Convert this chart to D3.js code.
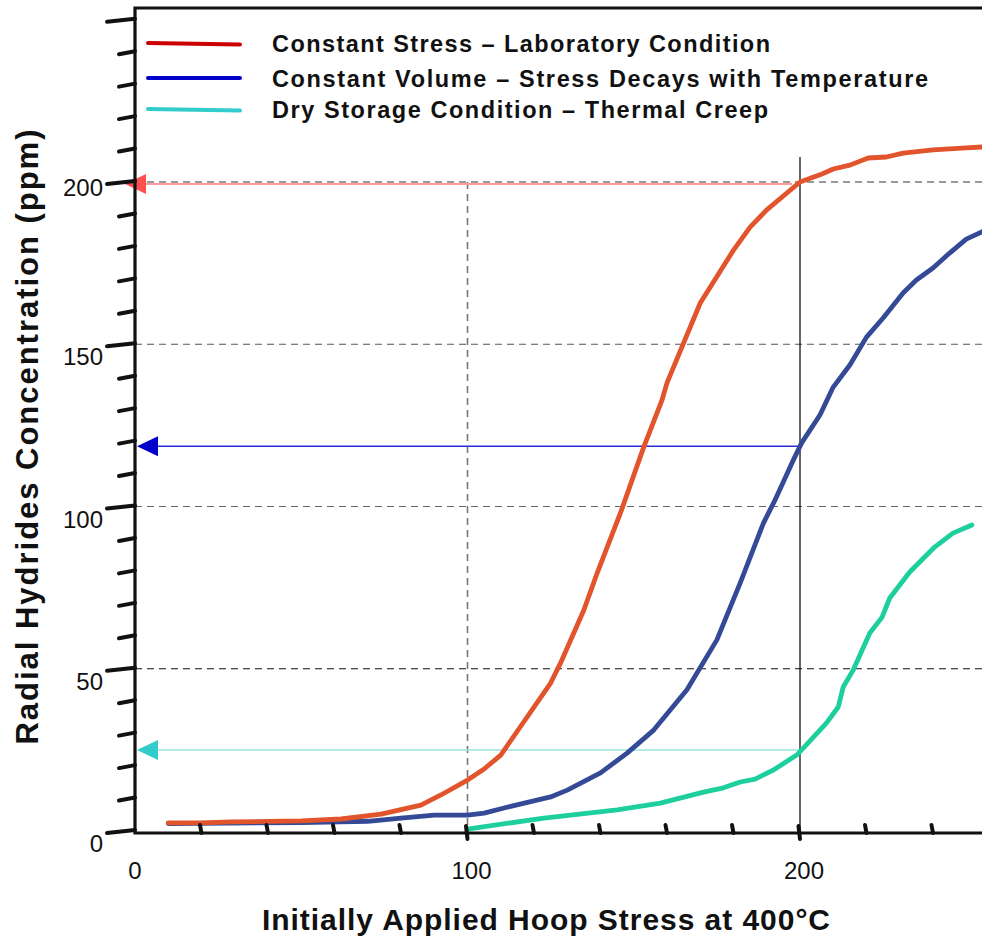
<!DOCTYPE html>
<html>
<head>
<meta charset="utf-8">
<script src="https://cdn.jsdelivr.net/npm/d3@7"></script>
<style>
  body { margin: 0; background: #fff; }
  svg { display: block; font-family: "Liberation Sans", Arial, sans-serif; }
</style>
</head>
<body>
<div id="chart"></div>
<script>
// hoop stress (MPa) vs radial hydride concentration (ppm)
const constantStress = [
  [10, 2.5], [20, 2.5], [29, 2.8], [50, 3.1], [62, 3.7], [74, 5.2], [86, 8.0],
  [92, 11.1], [100, 15.7], [105, 19.1], [110, 23.4], [125, 45.6], [128, 51.8],
  [135, 68.1], [139, 79.5], [146, 98.0], [153, 118.3], [158.5, 132.8], [160, 138.1],
  [170, 162.7], [180, 179.0], [185, 186.1], [190, 191.4], [200, 200.0], [206, 202.2],
  [210, 204.0], [215, 205.2], [220.5, 207.4], [226, 207.7], [231, 208.9], [240, 209.9],
  [250, 210.5], [255, 210.8]
];
const constantVolume = [
  [10, 2.3], [50, 2.6], [70, 3.0], [80, 4.0], [90, 4.9], [100, 4.9], [105, 5.5],
  [111, 7.1], [125, 10.5], [130, 12.6], [140, 17.9], [148, 24.0], [156, 31.1],
  [166, 43.5], [175, 58.9], [182, 76.4], [189, 94.9], [192.5, 102.0], [198, 114.3],
  [200.5, 119.6], [206, 128.2], [210, 136.8], [215, 143.6], [220, 152.2], [225, 158.1],
  [231, 165.8], [235, 169.8], [240, 173.5], [245, 178.1], [250, 182.4], [255, 184.8]
];
const dryStorage = [
  [100, 0.6], [123, 4.0], [145, 6.5], [158, 8.6], [171, 12.0], [177, 13.3], [182, 15.1],
  [186.5, 16.0], [192, 18.8], [199, 23.4], [200.5, 25.0], [208, 33.3], [211.5, 38.2],
  [213, 44.4], [216, 49.6], [221, 61.0], [224.7, 65.9], [227, 71.8], [233, 79.8],
  [240.5, 87.5], [246, 91.8], [251.7, 94.3]
];
const seriesNames = [
  "Constant Stress \u2013 Laboratory Condition",
  "Constant Volume \u2013 Stress Decays with Temperature",
  "Dry Storage Condition \u2013 Thermal Creep"
];
const legendColors = ["#cc0000", "#0000cc", "#33cccc"];
const curveColors = ["#e2542c", "#354a96", "#1dcf9d"];
// values where each curve meets 200 MPa, marked with arrows to the axis
const arrowValues = [199.4, 118.6, 25.0];
const arrowColors = ["#ff9a9a", "#2b2bd9", "#99e3e3"];
const arrowHeadColors = ["#ff5050", "#0000cc", "#33cccc"];
const xTickLabels = [0, 100, 200];
const yTickLabels = [0, 50, 100, 150, 200];
const yGridValues = [200, 150, 100, 50];
const gridColors = ["#7a7a7a", "#555", "#666", "#111"];

const width = 982, height = 941;
const svg = d3.select("#chart").append("svg")
  .attr("width", width).attr("height", height);

const x = d3.scaleLinear().domain([0, 200]).range([135, 800]);
const y = d3.scaleLinear().domain([0, 200]).range([831, 182]);
const plotLeft = x(0), plotRight = width, plotTop = 8, plotBottom = 833;

// grid
svg.selectAll(".hgrid").data(yGridValues).enter().append("line")
  .attr("x1", plotLeft).attr("x2", plotRight)
  .attr("y1", (d) => y(d)).attr("y2", (d) => y(d))
  .attr("stroke", (d, i) => gridColors[i])
  .attr("stroke-width", (d, i) => (i === 0 ? 1.6 : 1.2))
  .attr("stroke-dasharray", "7,5");

svg.append("line")
  .attr("x1", x(100)).attr("x2", x(100))
  .attr("y1", y(200)).attr("y2", plotBottom)
  .attr("stroke", "#777").attr("stroke-width", 1.6)
  .attr("stroke-dasharray", "7,5");

svg.append("line")
  .attr("x1", x(200)).attr("x2", x(200))
  .attr("y1", 157).attr("y2", plotBottom)
  .attr("stroke", "#000").attr("stroke-width", 1.2);

// arrows back to the axis
arrowValues.forEach((v, i) => {
  const yy = y(v);
  svg.append("line")
    .attr("x1", x(200) - (i === 0 ? 8 : 0)).attr("x2", plotLeft + 10)
    .attr("y1", yy).attr("y2", yy)
    .attr("stroke", arrowColors[i]).attr("stroke-width", i === 0 ? 2 : 1.5);
  const tip = i === 0 ? plotLeft - 10 : plotLeft + 2;
  svg.append("path")
    .attr("d", `M${tip},${yy} L${tip + 21},${yy - 10} L${tip + 21},${yy + 10} Z`)
    .attr("fill", arrowHeadColors[i]);
});

// curves (constant stress drawn last so it sits on top at low stress)
const line = d3.line().x((d) => x(d[0])).y((d) => y(d[1]));
[[constantVolume, 1], [dryStorage, 2], [constantStress, 0]].forEach(([data, i]) => {
  svg.append("path")
    .datum(data)
    .attr("d", line)
    .attr("fill", "none")
    .attr("stroke", curveColors[i])
    .attr("stroke-width", 4.8)
    .attr("stroke-linejoin", "round")
    .attr("stroke-linecap", "round");
});

// frame
svg.append("path")
  .attr("d", `M${plotRight},${plotTop} L${plotLeft},${plotTop} L${plotLeft},${plotBottom} L${plotRight},${plotBottom}`)
  .attr("fill", "none").attr("stroke", "#111").attr("stroke-width", 3.2);

// y ticks, slanted like the original
const yTicks = d3.range(0, 251, 10);
svg.selectAll(".ytick").data(yTicks).enter().append("line")
  .attr("x1", (d) => (d % 50 === 0 ? plotLeft - 28 : plotLeft - 16))
  .attr("x2", plotLeft)
  .attr("y1", (d) => y(d) + 2)
  .attr("y2", (d) => y(d) - 1)
  .attr("stroke", "#111").attr("stroke-width", 4)
  .attr("stroke-linecap", "round");

// x ticks
const xTicks = d3.range(20, 255, 20);
svg.selectAll(".xtick").data(xTicks).enter().append("line")
  .attr("x1", (d) => x(d) - 1.5).attr("x2", (d) => x(d))
  .attr("y1", (d) => (d % 100 === 0 ? plotBottom - 7 : plotBottom - 8))
  .attr("y2", (d) => (d % 100 === 0 ? plotBottom + 6 : plotBottom))
  .attr("stroke", "#111").attr("stroke-width", 4)
  .attr("stroke-linecap", "round");

// tick labels
svg.selectAll(".ylab").data(yTickLabels).enter().append("text")
  .attr("x", 103).attr("y", (d) => y(d) + (d === 200 ? 14 : 21))
  .attr("text-anchor", "end")
  .style("font-size", "24px").attr("fill", "#111")
  .text((d) => d);

svg.selectAll(".xlab").data(xTickLabels).enter().append("text")
  .attr("x", (d) => x(d) + (d === 0 ? 0 : 4)).attr("y", 879)
  .attr("text-anchor", "middle")
  .style("font-size", "24px").attr("fill", "#111")
  .text((d) => d);

// axis titles
svg.append("text")
  .attr("x", 546).attr("y", 930)
  .attr("text-anchor", "middle")
  .attr("textLength", 568).attr("lengthAdjust", "spacing")
  .style("font-size", "30px").style("font-weight", "bold").attr("fill", "#111")
  .text("Initially Applied Hoop Stress at 400\u00b0C");

svg.append("text")
  .attr("transform", "translate(38,437) rotate(-90)")
  .attr("text-anchor", "middle")
  .attr("textLength", 615).attr("lengthAdjust", "spacing")
  .style("font-size", "31px").style("font-weight", "bold").attr("fill", "#111")
  .text("Radial Hydrides Concentration (ppm)");

// legend
const legendY = [43, 78, 109];
const legendWidths = [498, 656, 496];
seriesNames.forEach((name, i) => {
  svg.append("line")
    .attr("x1", 148).attr("x2", 240)
    .attr("y1", legendY[i]).attr("y2", legendY[i] + (i === 1 ? 0 : 1.5))
    .attr("stroke", legendColors[i]).attr("stroke-width", 4)
    .attr("stroke-linecap", "round");
  svg.append("text")
    .attr("x", 272).attr("y", legendY[i] + 9)
    .attr("textLength", legendWidths[i]).attr("lengthAdjust", "spacing")
    .style("font-size", "23.5px").style("font-weight", "bold").attr("fill", "#111")
    .text(name);
});
</script>
</body>
</html>
